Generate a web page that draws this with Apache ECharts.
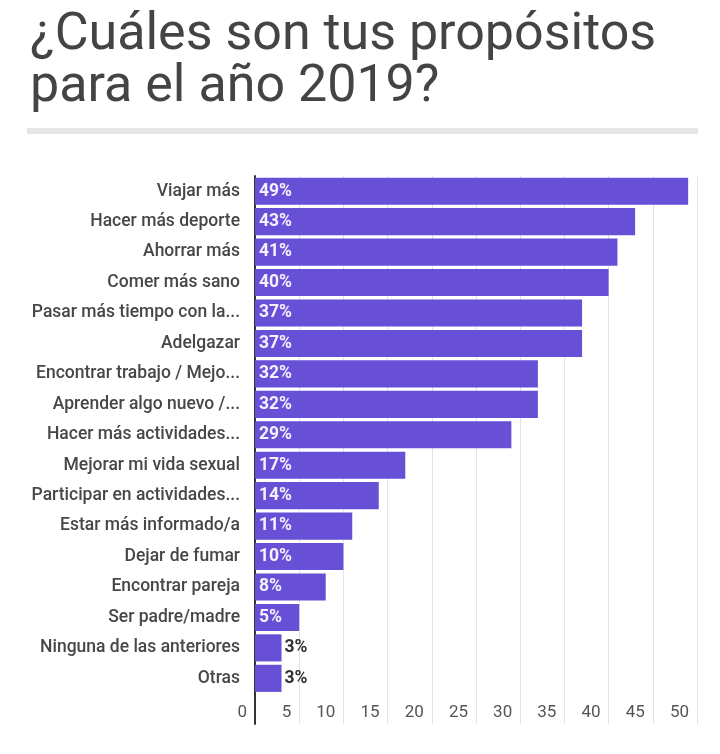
<!DOCTYPE html>
<html>
<head>
<meta charset="utf-8">
<script src="https://cdn.jsdelivr.net/npm/echarts@6/dist/echarts.min.js"></script>
<style>
html,body{margin:0;padding:0;background:#fff;}
#c{width:720px;height:754px;}
</style>
</head>
<body>
<div id="c"></div>
<script>
const titleText = '¿Cuáles son tus propósitos\npara el año 2019?';
const categories = [
  'Viajar más',
  'Hacer más deporte',
  'Ahorrar más',
  'Comer más sano',
  'Pasar más tiempo con la...',
  'Adelgazar',
  'Encontrar trabajo / Mejo...',
  'Aprender algo nuevo /...',
  'Hacer más actividades...',
  'Mejorar mi vida sexual',
  'Participar en actividades...',
  'Estar más informado/a',
  'Dejar de fumar',
  'Encontrar pareja',
  'Ser padre/madre',
  'Ninguna de las anteriores',
  'Otras'
];
const values = [49, 43, 41, 40, 37, 37, 32, 32, 29, 17, 14, 11, 10, 8, 5, 3, 3];
const xTicks = [0, 5, 10, 15, 20, 25, 30, 35, 40, 45, 50];

const chart = echarts.init(document.getElementById('c'));

const yCats = categories.concat(['']);
const seriesData = values.map(function (v) {
  if (v < 4) {
    return { value: v, label: { position: 'right', color: '#333333', distance: 3 } };
  }
  return v;
});
seriesData.push('-');

chart.setOption({
  animation: false,
  backgroundColor: '#ffffff',
  title: {
    text: titleText,
    left: 25,
    top: 5,
    textStyle: {
      fontFamily: 'Roboto',
      fontSize: 52,
      fontWeight: 'normal',
      lineHeight: 52,
      color: '#444444'
    }
  },
  graphic: [{
    type: 'rect',
    shape: { x: 27, y: 128, width: 671, height: 6 },
    style: { fill: '#e6e6e6' },
    silent: true
  }],
  grid: { left: 255, right: 23, top: 176, bottom: 30, containLabel: false },
  xAxis: {
    type: 'value',
    min: xTicks[0],
    max: xTicks[xTicks.length - 1],
    interval: 5,
    axisLine: { show: false },
    axisTick: { show: false },
    splitLine: { show: true, lineStyle: { color: '#e3e3e3', width: 1 } },
    axisLabel: {
      inside: true,
      margin: 3,
      align: 'right',
      padding: [0, 8, 0, 0],
      fontFamily: 'Roboto',
      fontSize: 17,
      color: '#555555'
    }
  },
  yAxis: {
    type: 'category',
    data: yCats,
    inverse: true,
    axisLine: { show: true, lineStyle: { color: '#333333', width: 2 } },
    axisTick: { show: false },
    axisLabel: {
      margin: 15,
      fontFamily: 'Roboto',
      fontSize: 17.5,
      fontWeight: 500,
      color: '#474747'
    }
  },
  series: [{
    type: 'bar',
    data: seriesData,
    barCategoryGap: '11%',
    itemStyle: { color: '#674fd6' },
    label: {
      show: true,
      position: 'insideLeft',
      distance: 4,
      formatter: '{c}%',
      fontFamily: 'Roboto',
      fontSize: 17.5,
      fontWeight: 'bold',
      color: '#f4f0ff'
    }
  }]
});
</script>
</body>
</html>
